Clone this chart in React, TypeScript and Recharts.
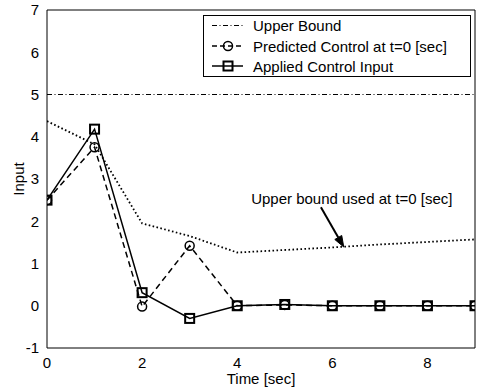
import React from 'react';
import {
  LineChart,
  Line,
  XAxis,
  YAxis,
  Legend,
  ReferenceLine,
  ReferenceDot,
} from 'recharts';

const FONT = '"Liberation Sans", Arial, Helvetica, sans-serif';

// ---- data ----
const time = [0, 1, 2, 3, 4, 5, 6, 7, 8, 9];
const upperBound = [5, 5, 5, 5, 5, 5, 5, 5, 5, 5];
const predicted = [2.5, 3.75, -0.02, 1.42, 0, 0.02, 0, 0, 0, 0];
const applied = [2.5, 4.18, 0.31, -0.3, 0, 0.03, 0, 0, 0, 0];
const boundUsed = [4.37, 3.82, 1.95, 1.65, 1.26, 1.32, 1.38, 1.45, 1.51, 1.57];

const xTicks = [0, 2, 4, 6, 8];
const yTicks = [-1, 0, 1, 2, 3, 4, 5, 6, 7];
const xDomain = [0, 9];
const yDomain = [-1, 7];

const legendLabels = [
  'Upper Bound',
  'Predicted Control at t=0 [sec]',
  'Applied Control Input',
];
const annotationText = 'Upper bound used at t=0 [sec]';
const annotationAt = { x: 6.41, y: 2.55 };
const arrowFrom = { x: 5.76, y: 2.33 };
const arrowTo = { x: 6.24, y: 1.39 };

const data = time.map((t, i) => ({
  t,
  upper: upperBound[i],
  predicted: predicted[i],
  applied: applied[i],
  used: boundUsed[i],
}));

const SquareDot = (props: any) => {
  const { cx, cy } = props;
  if (cx == null || cy == null) return <g />;
  return (
    <rect
      x={cx - 4.5}
      y={cy - 4.5}
      width={9}
      height={9}
      fill="none"
      stroke="#000"
      strokeWidth={2}
    />
  );
};

const CircleDot = (props: any) => {
  const { cx, cy } = props;
  if (cx == null || cy == null) return <g />;
  return <circle cx={cx} cy={cy} r={4.5} fill="none" stroke="#000" strokeWidth={1.5} />;
};

const LegendBox = () => {
  const rowsY = [10.5, 31, 51];
  return (
    <svg width={268} height={62} style={{ display: 'block' }}>
      <rect x={0.5} y={0.5} width={267} height={61} fill="#fff" stroke="#000" strokeWidth={1} />
      <line x1={9} y1={rowsY[0]} x2={40} y2={rowsY[0]} stroke="#000" strokeWidth={1} strokeDasharray="5 2.5 1 2.5" />
      <line x1={9} y1={rowsY[1]} x2={40} y2={rowsY[1]} stroke="#000" strokeWidth={1.5} strokeDasharray="5 3" />
      <circle cx={25} cy={rowsY[1]} r={4.5} fill="none" stroke="#000" strokeWidth={1.5} />
      <line x1={9} y1={rowsY[2]} x2={40} y2={rowsY[2]} stroke="#000" strokeWidth={1.5} />
      <rect x={20.5} y={rowsY[2] - 4.5} width={9} height={9} fill="none" stroke="#000" strokeWidth={2} />
      {legendLabels.map((l, i) => (
        <text
          key={l}
          x={50}
          y={rowsY[i]}
          dominantBaseline="central"
          fontFamily={FONT}
          fontSize={15}
          fill="#000"
        >
          {l}
        </text>
      ))}
    </svg>
  );
};

const ArrowShape = (props: any) => {
  const { x1, y1, x2, y2 } = props;
  if ([x1, y1, x2, y2].some((v) => v == null || isNaN(v))) return <g />;
  const ang = Math.atan2(y2 - y1, x2 - x1);
  const L = 11;
  const W = 4;
  const bx = x2 - L * Math.cos(ang);
  const by = y2 - L * Math.sin(ang);
  const px = -Math.sin(ang) * W;
  const py = Math.cos(ang) * W;
  return (
    <g>
      <line x1={x1} y1={y1} x2={bx} y2={by} stroke="#000" strokeWidth={2} />
      <polygon
        points={`${x2},${y2} ${bx + px},${by + py} ${bx - px},${by - py}`}
        fill="#000"
        stroke="#000"
      />
    </g>
  );
};

const AnnotationText = (props: any) => {
  const { cx, cy } = props;
  if (cx == null || cy == null) return <g />;
  return (
    <text
      x={cx}
      y={cy}
      textAnchor="middle"
      dominantBaseline="central"
      fontFamily={FONT}
      fontSize={15}
      fill="#000"
    >
      {annotationText}
    </text>
  );
};

const tickStyle = { fill: '#000', fontSize: 15, fontFamily: FONT };

export default function App() {
  return (
    <div style={{ position: 'absolute', left: 0, top: 0, background: '#fff' }}>
      <LineChart
        width={483}
        height={388}
        data={data}
        margin={{ top: 10, right: 8, left: 0, bottom: 0 }}
      >
        <XAxis
          xAxisId="x"
          dataKey="t"
          type="number"
          domain={xDomain}
          ticks={xTicks}
          orientation="bottom"
          height={40}
          tickLine={false}
          axisLine={{ stroke: '#000', strokeWidth: 1 }}
          tick={tickStyle}
          tickMargin={3}
          allowDataOverflow
          label={{
            value: 'Time [sec]',
            position: 'center',
            dy: 11,
            fill: '#000',
            fontSize: 15,
            fontFamily: FONT,
          }}
        />
        <YAxis
          yAxisId="y"
          type="number"
          domain={yDomain}
          ticks={yTicks}
          width={47}
          tickLine={false}
          axisLine={{ stroke: '#000', strokeWidth: 1 }}
          tick={tickStyle}
          tickMargin={2}
          allowDataOverflow
          label={{
            value: 'Input',
            angle: -90,
            position: 'center',
            dx: -5,
            fill: '#000',
            fontSize: 15,
            fontFamily: FONT,
          }}
        />
        <XAxis
          xAxisId="xb"
          type="number"
          domain={xDomain}
          ticks={xTicks}
          orientation="bottom"
          mirror
          tick={false}
          tickSize={5}
          tickLine={{ stroke: '#000' }}
          axisLine={false}
          allowDataOverflow
        />
        <XAxis
          xAxisId="xt"
          type="number"
          domain={xDomain}
          ticks={xTicks}
          orientation="top"
          mirror
          tick={false}
          tickSize={5}
          tickLine={{ stroke: '#000' }}
          axisLine={{ stroke: '#000', strokeWidth: 1 }}
          allowDataOverflow
        />
        <YAxis
          yAxisId="yl"
          type="number"
          domain={yDomain}
          ticks={yTicks}
          orientation="left"
          mirror
          tick={false}
          tickSize={5}
          tickLine={{ stroke: '#000' }}
          axisLine={false}
          allowDataOverflow
        />
        <YAxis
          yAxisId="yr"
          type="number"
          domain={yDomain}
          ticks={yTicks}
          orientation="right"
          mirror
          tick={false}
          tickSize={5}
          tickLine={{ stroke: '#000' }}
          axisLine={{ stroke: '#000', strokeWidth: 1 }}
          allowDataOverflow
        />

        <Line
          xAxisId="x"
          yAxisId="y"
          dataKey="upper"
          stroke="#000"
          strokeWidth={1}
          strokeDasharray="5 2.5 1 2.5"
          dot={false}
          activeDot={false}
          isAnimationActive={false}
        />
        <Line
          xAxisId="x"
          yAxisId="y"
          dataKey="used"
          stroke="#000"
          strokeWidth={1.8}
          strokeDasharray="1.6 2.4"
          dot={false}
          activeDot={false}
          isAnimationActive={false}
        />
        <Line
          xAxisId="x"
          yAxisId="y"
          dataKey="predicted"
          stroke="#000"
          strokeWidth={1.5}
          strokeDasharray="6 4"
          dot={<CircleDot />}
          activeDot={false}
          isAnimationActive={false}
        />
        <Line
          xAxisId="x"
          yAxisId="y"
          dataKey="applied"
          stroke="#000"
          strokeWidth={1.5}
          dot={<SquareDot />}
          activeDot={false}
          isAnimationActive={false}
        />

        <ReferenceLine
          xAxisId="x"
          yAxisId="y"
          segment={[arrowFrom, arrowTo]}
          ifOverflow="visible"
          shape={<ArrowShape />}
        />
        <ReferenceDot
          xAxisId="x"
          yAxisId="y"
          x={annotationAt.x}
          y={annotationAt.y}
          r={0}
          ifOverflow="visible"
          shape={<AnnotationText />}
        />

        <Legend
          layout="horizontal"
          verticalAlign="middle"
          align="center"
          content={<LegendBox />}
          wrapperStyle={{ position: 'absolute', left: 203, top: 15, width: 268, height: 62 }}
        />
      </LineChart>
    </div>
  );
}
